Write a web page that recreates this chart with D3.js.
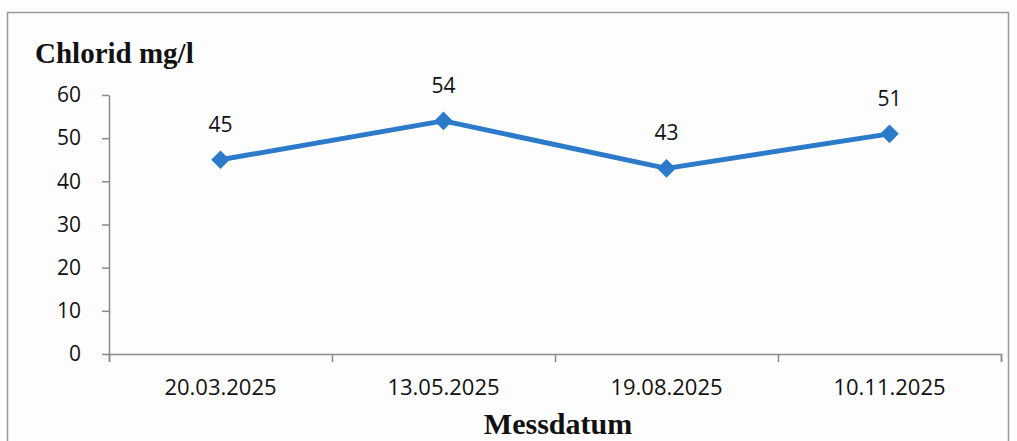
<!DOCTYPE html>
<html>
<head>
<meta charset="utf-8">
<script src="https://cdn.jsdelivr.net/npm/d3@7"></script>
<style>
  body { margin: 0; background: #fdfdfd; }
  svg { display: block; }
</style>
</head>
<body>
<svg width="1017" height="441"></svg>
<script>
var dates = ["20.03.2025", "13.05.2025", "19.08.2025", "10.11.2025"];
var chlorid = [45, 54, 43, 51];
var yTicks = [0, 10, 20, 30, 40, 50, 60];

var svg = d3.select("svg"),
  plotLeft = 109,
  plotRight = 1001,
  plotTop = 95,
  plotBottom = 354;

var tickFont = "'Open Sans', sans-serif";

// outer frame
svg.append("rect")
  .attr("x", 7.5).attr("y", 12.5)
  .attr("width", 1001).attr("height", 440)
  .attr("fill", "#fdfdfd")
  .attr("stroke", "#9a9a9a")
  .attr("stroke-width", 1.5);

var x = d3.scaleBand().domain(dates).range([plotLeft, plotRight]).padding(0);
var y = d3.scaleLinear().domain([0, 60]).range([plotBottom, plotTop]);

// y axis
var yAxis = svg.append("g")
  .attr("transform", "translate(" + plotLeft + ",0)")
  .call(d3.axisLeft(y).tickValues(yTicks).tickSize(7).tickPadding(21).tickSizeOuter(0));
yAxis.selectAll("text")
  .attr("font-family", tickFont)
  .attr("font-size", "21px")
  .attr("fill", "#111");

// x axis: labels at band centres, ticks at band edges
var edges = d3.scaleLinear().domain([0, dates.length]).range([plotLeft, plotRight]);
svg.append("g")
  .attr("transform", "translate(0," + plotBottom + ")")
  .call(d3.axisBottom(edges).ticks(dates.length).tickSize(8).tickFormat(""));
var xLabels = svg.append("g")
  .attr("transform", "translate(0," + plotBottom + ")")
  .call(d3.axisBottom(x).tickSize(0).tickPadding(25));
xLabels.select(".domain").remove();
xLabels.selectAll("text")
  .attr("font-family", tickFont)
  .attr("font-size", "22px")
  .attr("fill", "#111");

svg.selectAll(".domain, .tick line")
  .attr("stroke", "#8a8a8a")
  .attr("stroke-width", 1.5);

// line
var line = d3.line()
  .x(function (d, i) { return x(dates[i]) + x.bandwidth() / 2; })
  .y(function (d) { return y(d); });

svg.append("path")
  .datum(chlorid)
  .attr("d", line)
  .attr("fill", "none")
  .attr("stroke", "#2c7bcb")
  .attr("stroke-width", 5)
  .attr("stroke-linejoin", "round");

// diamond markers
svg.selectAll(".marker")
  .data(chlorid)
  .enter()
  .append("path")
  .attr("class", "marker")
  .attr("d", d3.symbol().type(d3.symbolDiamond2).size(220))
  .attr("transform", function (d, i) {
    return "translate(" + (x(dates[i]) + x.bandwidth() / 2) + "," + y(d) + ")";
  })
  .attr("fill", "#2c7bcb");

// data labels
svg.selectAll(".lbl")
  .data(chlorid)
  .enter()
  .append("text")
  .attr("x", function (d, i) { return x(dates[i]) + x.bandwidth() / 2; })
  .attr("y", function (d) { return y(d) - 28; })
  .attr("text-anchor", "middle")
  .attr("font-family", tickFont)
  .attr("font-size", "21px")
  .attr("fill", "#111")
  .text(function (d) { return d; });

// titles
svg.append("text")
  .attr("x", 35).attr("y", 63)
  .attr("font-family", "'Liberation Serif', serif")
  .attr("font-weight", "bold")
  .attr("font-size", "29px")
  .attr("fill", "#111")
  .text("Chlorid mg/l");

svg.append("text")
  .attr("x", 558).attr("y", 434)
  .attr("text-anchor", "middle")
  .attr("font-family", "'Liberation Serif', serif")
  .attr("font-weight", "bold")
  .attr("font-size", "30px")
  .attr("fill", "#111")
  .text("Messdatum");
</script>
</body>
</html>
